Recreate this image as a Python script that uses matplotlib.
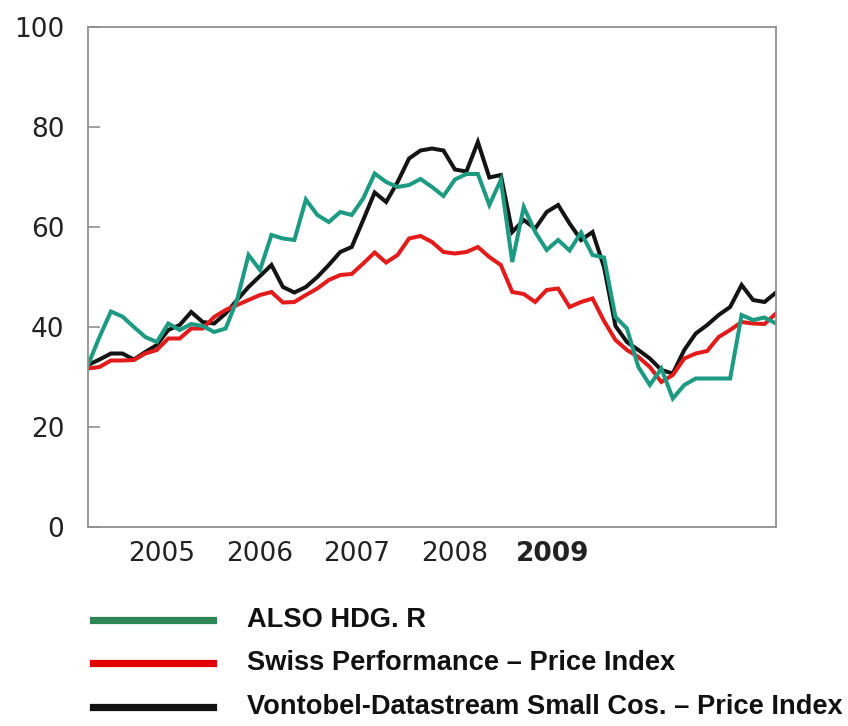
import matplotlib
matplotlib.use("Agg")
import matplotlib.pyplot as plt
from matplotlib.lines import Line2D

# ---- data (index = month step, 61 points) ----
years = ["2005", "2006", "2007", "2008", "2009"]
year_pos = [6.45, 15.0, 23.45, 32.0, 40.55]
y_ticks = [0, 20, 40, 60, 80, 100]

also = [32.4, 38.0, 43.1, 42.1, 40.0, 38.0, 37.0, 40.7, 39.4, 40.6,
        40.2, 39.0, 39.7, 45.4, 54.4, 51.4, 58.4, 57.7, 57.4, 65.5,
        62.4, 61.0, 63.0, 62.4, 65.7, 70.7, 69.0, 68.0, 68.4, 69.6,
        68.0, 66.2, 69.5, 70.6, 70.6, 64.4, 69.4, 53.0, 64.0, 59.0,
        55.4, 57.4, 55.3, 58.9, 54.4, 53.9, 42.0, 39.7, 32.0, 28.4,
        31.7, 25.7, 28.4, 29.7, 29.7, 29.7, 29.7, 42.4, 41.4, 41.9, 40.7]

swiss = [31.7, 32.0, 33.3, 33.3, 33.4, 34.7, 35.4, 37.7, 37.7, 39.7,
         39.7, 42.0, 43.4, 44.4, 45.4, 46.4, 47.0, 44.9, 45.0, 46.4,
         47.7, 49.4, 50.4, 50.6, 52.7, 54.9, 52.9, 54.4, 57.7, 58.2,
         57.0, 55.0, 54.7, 55.0, 56.0, 54.0, 52.4, 47.0, 46.6, 45.0,
         47.4, 47.7, 44.0, 45.0, 45.7, 41.2, 37.4, 35.4, 34.0, 32.0,
         29.0, 30.4, 33.7, 34.7, 35.2, 38.0, 39.4, 41.0, 40.7, 40.6, 42.7]

vontobel = [32.4, 33.5, 34.7, 34.7, 33.5, 35.0, 36.4, 39.4, 40.4, 43.0,
            41.0, 40.7, 42.7, 45.4, 48.0, 50.2, 52.4, 48.0, 46.9, 48.0,
            50.0, 52.4, 55.0, 56.0, 61.4, 66.9, 65.0, 69.0, 73.7, 75.3,
            75.7, 75.3, 71.5, 71.1, 77.0, 69.9, 70.4, 59.0, 61.4, 59.7,
            63.0, 64.4, 60.7, 57.4, 59.0, 52.0, 40.2, 37.0, 35.4, 33.7,
            31.4, 30.7, 35.4, 38.7, 40.4, 42.4, 44.0, 48.4, 45.4, 45.0, 46.9]

labels = ["ALSO HDG. R", "Swiss Performance \u2013 Price Index",
          "Vontobel-Datastream Small Cos. \u2013 Price Index"]

c_green = "#1c9a82"
c_red = "#e31b1b"
c_black = "#141414"
leg_colors = ["#2e8555", "#e00000", "#111111"]

W, H = 848, 726
fig = plt.figure(figsize=(W / 100, H / 100), dpi=100)
ax = fig.add_axes([88 / W, 1 - 527 / H, 688 / W, 500 / H])

x = list(range(len(also)))
ax.plot(x, vontobel, color=c_black, lw=2.9, solid_joinstyle="miter")
ax.plot(x, swiss, color=c_red, lw=2.9, solid_joinstyle="miter")
ax.plot(x, also, color=c_green, lw=2.9, solid_joinstyle="miter")

ax.set_xlim(0, 60)
ax.set_ylim(0, 100)
for s in ax.spines.values():
    s.set_color("#909090")
    s.set_linewidth(1.3)

ax.set_yticks(y_ticks)
ax.set_yticklabels([str(v) for v in y_ticks])
ax.tick_params(axis="y", direction="in", length=8.5, width=1.2, color="#909090",
               pad=17, labelsize=19, labelcolor="#222222")
ax.set_xticks(year_pos)
ax.set_xticklabels(years)
ax.tick_params(axis="x", length=0, pad=10, labelsize=19, labelcolor="#222222")
for t in ax.get_xticklabels():
    if t.get_text() == "2009":
        t.set_fontweight("bold")

# legend below
leg_y = [620, 663, 707]
for ly, col, lab in zip(leg_y, leg_colors, labels):
    yf = 1 - ly / H
    fig.add_artist(Line2D([93 / W, 213 / W], [yf, yf], color=col, lw=5.2,
                          transform=fig.transFigure))
    fig.text(247 / W, yf, lab, ha="left", va="center", fontsize=19.6,
             fontweight="bold", family="Liberation Sans", color="#111111")

fig.savefig("out.png", dpi=100)
